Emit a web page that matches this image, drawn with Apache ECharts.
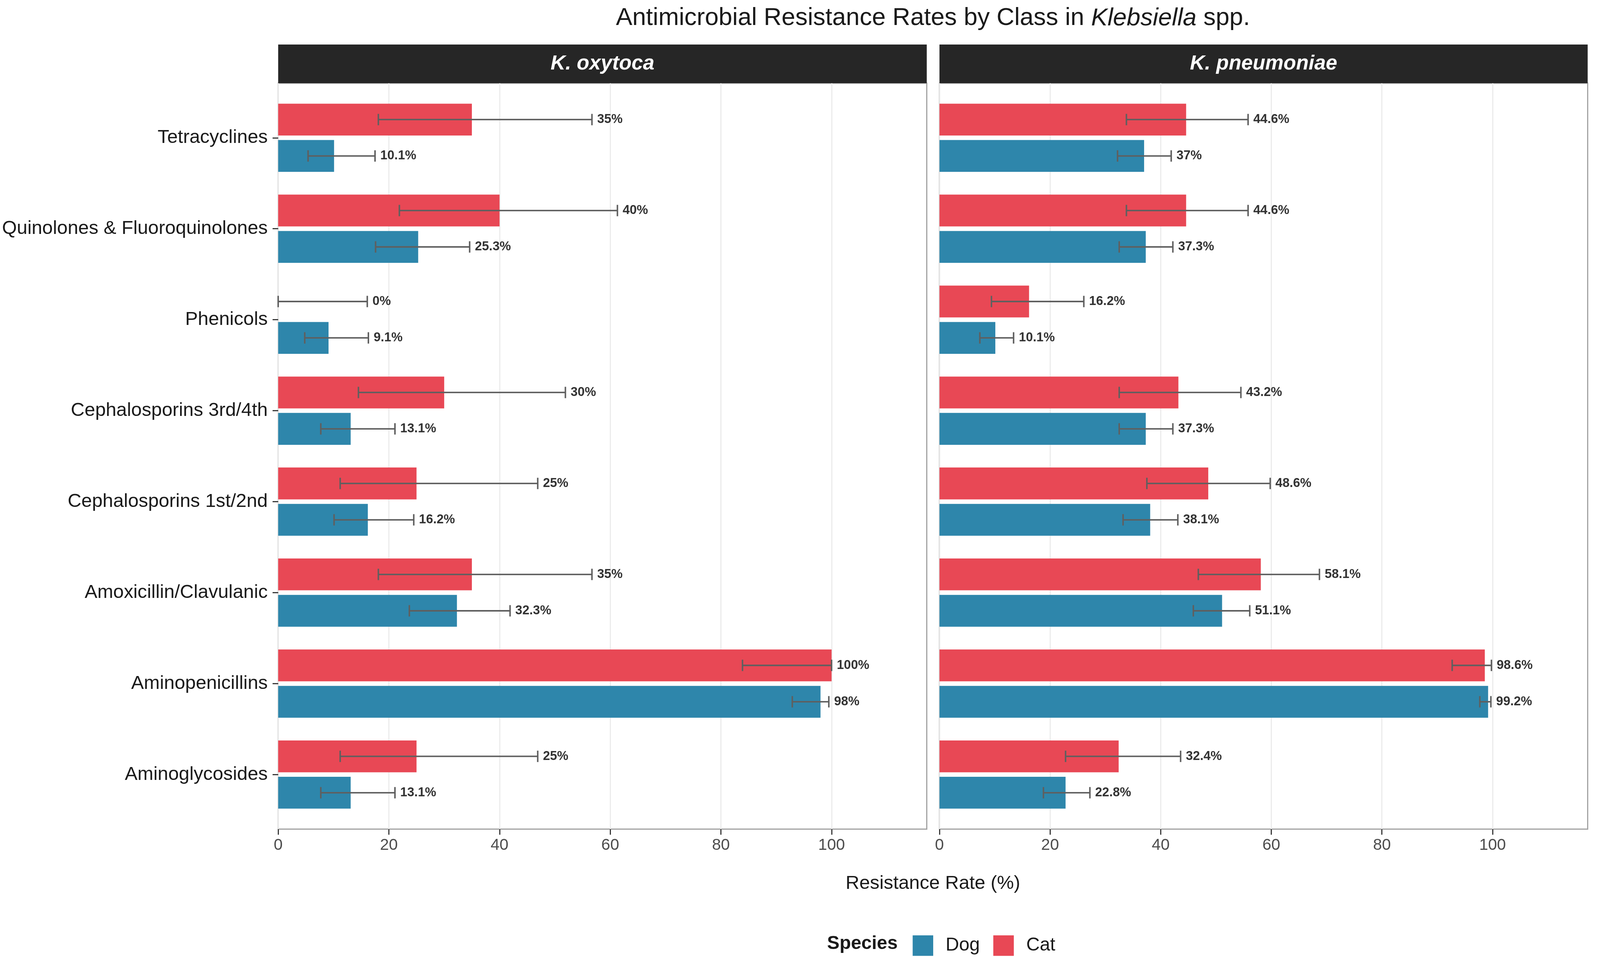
<!DOCTYPE html>
<html>
<head>
<meta charset="utf-8">
<script src="https://cdn.jsdelivr.net/npm/echarts@6/dist/echarts.min.js"></script>
<style>html,body{margin:0;padding:0;background:#fff;overflow:hidden;}#chart{width:100vw;height:100vh;}</style>
</head>
<body>
<div id="chart"></div>
<script>
// ---------------- DATA ----------------
const categories = ['Tetracyclines', 'Quinolones & Fluoroquinolones', 'Phenicols', 'Cephalosporins 3rd/4th',
  'Cephalosporins 1st/2nd', 'Amoxicillin/Clavulanic', 'Aminopenicillins', 'Aminoglycosides'];
const panels = ['K. oxytoca', 'K. pneumoniae'];
const xTicks = [0, 20, 40, 60, 80, 100];

// K. oxytoca
const oxyCatRate = [35, 40, 0, 30, 25, 35, 100, 25];
const oxyCatLo   = [18.1, 21.9, 0, 14.5, 11.2, 18.1, 83.9, 11.2];
const oxyCatHi   = [56.7, 61.3, 16.1, 51.9, 46.9, 56.7, 100, 46.9];
const oxyDogRate = [10.1, 25.3, 9.1, 13.1, 16.2, 32.3, 98, 13.1];
const oxyDogLo   = [5.4, 17.6, 4.8, 7.7, 10.1, 23.7, 92.9, 7.7];
const oxyDogHi   = [17.5, 34.6, 16.3, 21.1, 24.5, 41.9, 99.5, 21.1];

// K. pneumoniae
const pneCatRate = [44.6, 44.6, 16.2, 43.2, 48.6, 58.1, 98.6, 32.4];
const pneCatLo   = [33.8, 33.8, 9.4, 32.5, 37.5, 46.8, 92.7, 22.8];
const pneCatHi   = [55.8, 55.8, 26.1, 54.5, 59.8, 68.7, 99.8, 43.6];
const pneDogRate = [37, 37.3, 10.1, 37.3, 38.1, 51.1, 99.2, 22.8];
const pneDogLo   = [32.2, 32.5, 7.3, 32.5, 33.2, 45.9, 97.7, 18.8];
const pneDogHi   = [41.9, 42.2, 13.4, 42.2, 43.1, 56.1, 99.7, 27.2];

// ---------------- STYLE / LAYOUT ----------------
const el = document.getElementById('chart');
const VW = el.clientWidth || 4285, VH = el.clientHeight || 2453;
const SX = VW / 4285, SY = VH / 2453, SF = Math.min(SX, SY);
const X = v => v * SX, Y = v => v * SY, F = v => v * SF;

const FONT = "'Liberation Sans', Arial, Helvetica, sans-serif";
const CAT_COLOR = '#E84855';
const DOG_COLOR = '#2E86AB';
const X_MAX = 117.2;
const PANEL_TOP = 213, PANEL_BOTTOM = 2123, STRIP_TOP = 114;
const P = [{left: 745, right: 2482}, {left: 2516, right: 4252}];
const BAND = (PANEL_BOTTOM - PANEL_TOP) / 8.2;
const DATA_TOP = PANEL_TOP + 0.1 * BAND;
const DATA_H = 8 * BAND;

const chart = echarts.init(el, null, {renderer: 'canvas'});

function errData(lo, hi, rate) {
  return lo.map((v, i) => [v, hi[i], i, rate[i]]);
}
function fmt(v) { return String(v) + '%'; }

function errSeries(name, xi, yi, data, off) {
  return {
    type: 'custom', name: name, xAxisIndex: xi, yAxisIndex: yi,
    z: 5, silent: true,
    encode: {x: [0, 1], y: 2},
    data: data,
    renderItem: function (params, api) {
      const lo = api.value(0), hi = api.value(1), idx = api.value(2), rate = api.value(3);
      const p0 = api.coord([lo, idx]);
      const p1 = api.coord([hi, idx]);
      const band = api.size([0, 1])[1];
      const y = p0[1] + off * band;
      const cap = 0.125 * band / 2;
      const ls = {stroke: '#5F5F5F', lineWidth: F(4)};
      return {
        type: 'group',
        children: [
          {type: 'line', shape: {x1: p0[0], y1: y, x2: p1[0], y2: y}, style: ls},
          {type: 'line', shape: {x1: p0[0], y1: y - cap, x2: p0[0], y2: y + cap}, style: ls},
          {type: 'line', shape: {x1: p1[0], y1: y - cap, x2: p1[0], y2: y + cap}, style: ls},
          {type: 'text', x: p1[0] + X(14), y: y,
            style: {text: fmt(rate), fill: '#333333', fontSize: F(34), fontWeight: 'bold', fontFamily: FONT,
              align: 'left', verticalAlign: 'middle'}}
        ]
      };
    }
  };
}

const grids = [], xAxes = [], yAxes = [];
P.forEach((p, k) => {
  const w = p.right - p.left;
  grids.push({left: X(p.left), top: Y(PANEL_TOP), width: X(w), height: Y(PANEL_BOTTOM - PANEL_TOP),
    show: true, borderColor: '#A0A0A0', borderWidth: F(3), backgroundColor: '#fff', containLabel: false});
  grids.push({left: X(p.left), top: Y(DATA_TOP), width: X(w), height: Y(DATA_H), containLabel: false});
  xAxes.push({
    type: 'value', gridIndex: 2 * k, min: 0, max: X_MAX,
    axisLine: {show: false},
    axisTick: {show: true, length: F(15), customValues: xTicks, lineStyle: {color: '#333', width: F(3)}},
    axisLabel: {show: true, customValues: xTicks, fontSize: F(43), color: '#4D4D4D', fontFamily: FONT, margin: F(22)},
    splitLine: {show: true, lineStyle: {color: '#EBEBEB', width: F(3)}}
  });
  xAxes.push({type: 'value', gridIndex: 2 * k + 1, min: 0, max: X_MAX, show: false});
  yAxes.push({type: 'value', gridIndex: 2 * k, min: 0, max: 1, show: false});
  yAxes.push({
    type: 'category', gridIndex: 2 * k + 1, data: categories, inverse: true,
    axisLine: {show: false},
    axisTick: {show: k === 0, length: F(15), alignWithLabel: true, lineStyle: {color: '#333', width: F(3)}},
    axisLabel: {show: k === 0, fontSize: F(51), color: '#1A1A1A', fontFamily: FONT, margin: F(28)},
    splitLine: {show: false}
  });
});

const barCommon = {barWidth: '35%', barGap: '14.3%', z: 3};
const series = [
  Object.assign({type: 'bar', name: 'Cat', xAxisIndex: 1, yAxisIndex: 1, data: oxyCatRate, itemStyle: {color: CAT_COLOR}}, barCommon),
  Object.assign({type: 'bar', name: 'Dog', xAxisIndex: 1, yAxisIndex: 1, data: oxyDogRate, itemStyle: {color: DOG_COLOR}}, barCommon),
  Object.assign({type: 'bar', name: 'Cat', xAxisIndex: 3, yAxisIndex: 3, data: pneCatRate, itemStyle: {color: CAT_COLOR}}, barCommon),
  Object.assign({type: 'bar', name: 'Dog', xAxisIndex: 3, yAxisIndex: 3, data: pneDogRate, itemStyle: {color: DOG_COLOR}}, barCommon),
  errSeries('errOxyCat', 1, 1, errData(oxyCatLo, oxyCatHi, oxyCatRate), -0.2),
  errSeries('errOxyDog', 1, 1, errData(oxyDogLo, oxyDogHi, oxyDogRate), 0.2),
  errSeries('errPneCat', 3, 3, errData(pneCatLo, pneCatHi, pneCatRate), -0.2),
  errSeries('errPneDog', 3, 3, errData(pneDogLo, pneDogHi, pneDogRate), 0.2)
];

const graphic = [
  {type: 'text', x: X((P[0].left + P[1].right) / 2), y: Y(47), z: 10,
    style: {text: 'Antimicrobial Resistance Rates by Class in {i|Klebsiella} spp.', fontSize: F(66), fontFamily: FONT,
      fill: '#1A1A1A', align: 'center', verticalAlign: 'middle',
      rich: {i: {fontStyle: 'italic', fontSize: F(66), fontFamily: FONT, fill: '#1A1A1A'}}}},
  {type: 'text', x: X((P[0].left + P[1].right) / 2), y: Y(2263), z: 10,
    style: {text: 'Resistance Rate (%)', fontSize: F(51), fontFamily: FONT, fill: '#1A1A1A',
      align: 'center', verticalAlign: 'middle'}},
  {type: 'text', x: X(2404), y: Y(2417), z: 10,
    style: {text: 'Species', fontSize: F(50), fontWeight: 'bold', fontFamily: FONT, fill: '#1A1A1A',
      align: 'right', verticalAlign: 'middle'}}
];
P.forEach((p, k) => {
  graphic.push({type: 'rect', shape: {x: X(p.left), y: Y(STRIP_TOP), width: X(p.right - p.left), height: Y(PANEL_TOP - STRIP_TOP)}, z: 9,
    style: {fill: '#262626'}});
  graphic.push({type: 'text', x: X((p.left + p.right) / 2), y: Y((STRIP_TOP + PANEL_TOP) / 2), z: 10,
    style: {text: panels[k], fontSize: F(55), fontWeight: 'bold', fontStyle: 'italic', fontFamily: FONT,
      fill: '#FFFFFF', align: 'center', verticalAlign: 'middle'}});
});

chart.setOption({
  backgroundColor: '#FFFFFF',
  animation: false,
  grid: grids,
  xAxis: xAxes,
  yAxis: yAxes,
  legend: {
    data: ['Dog', 'Cat'], icon: 'rect', itemWidth: F(55), itemHeight: F(55), itemGap: F(36),
    left: X(2439), top: Y(2390),
    textStyle: {fontSize: F(50), color: '#1A1A1A', fontFamily: FONT, padding: [0, 0, 0, F(28)]}
  },
  series: series,
  graphic: graphic
});
</script>
</body>
</html>
